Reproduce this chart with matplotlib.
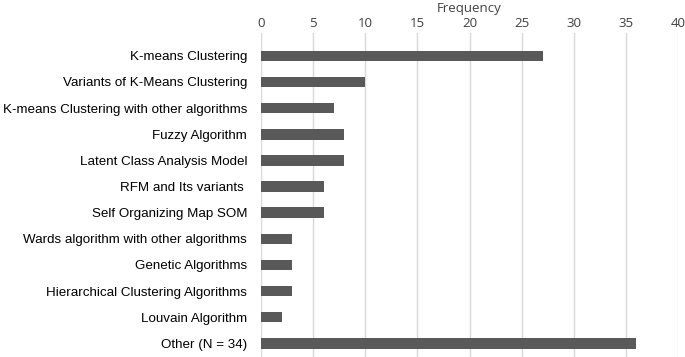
import matplotlib.pyplot as plt

categories = ['K-means Clustering', 'Variants of K-Means Clustering',
              'K-means Clustering with other algorithms', 'Fuzzy Algorithm',
              'Latent Class Analysis Model', 'RFM and Its variants ',
              'Self Organizing Map SOM', 'Wards algorithm with other algorithms',
              'Genetic Algorithms', 'Hierarchical Clustering Algorithms',
              'Louvain Algorithm', 'Other (N = 34)']
frequency = [27, 10, 7, 8, 8, 6, 6, 3, 3, 3, 2, 36]
xticks = [0, 5, 10, 15, 20, 25, 30, 35, 40]

fig = plt.figure(figsize=(6.85, 3.57), dpi=100)
ax = fig.add_axes([0.381, 0.0, 0.609, 0.908])

ypos = list(range(len(categories)))
ax.barh(ypos, frequency, height=0.4, color='#595959', zorder=3)
ax.set_ylim(len(categories) - 0.48, -0.88)
ax.set_xlim(0, 40)
ax.set_xticks(xticks)
ax.grid(axis='x', color='#d9d9d9', linewidth=1, zorder=0)
ax.xaxis.tick_top()
ax.xaxis.set_label_position('top')
ax.set_xlabel('Frequency', family='Open Sans', fontsize=9.5, color='#404040', labelpad=4)
for lab in ax.get_xticklabels():
    lab.set_family('Open Sans')
    lab.set_fontsize(9.5)
    lab.set_color('#404040')
ax.tick_params(axis='x', length=0, pad=2)
ax.set_yticks(ypos)
ax.set_yticklabels(categories, family='Liberation Sans', fontsize=9.6, color='black')
ax.tick_params(axis='y', length=0, pad=10)
for s in ax.spines.values():
    s.set_visible(False)

fig.savefig('out.png', dpi=100)
